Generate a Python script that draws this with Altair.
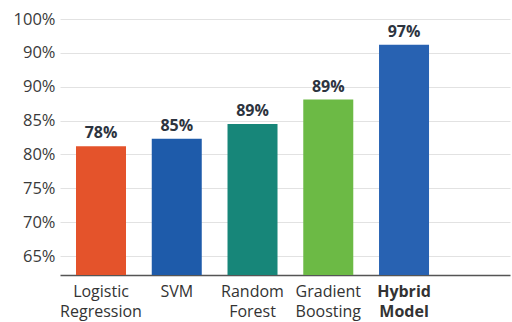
import altair as alt
import pandas as pd

models = ["Logistic Regression", "SVM", "Random Forest", "Gradient Boosting", "Hybrid Model"]
bar_heights = [81.2, 82.3, 84.5, 88.1, 96.2]
value_labels = ["78%", "85%", "89%", "89%", "97%"]
bar_colors = ["#E4532B", "#1E5BAA", "#178679", "#6CBA45", "#2862B2"]
y_ticks = [65, 70, 75, 80, 85, 90, 95, 100]
y_tick_labels = ["65%", "70%", "75%", "80%", "85%", "90%", "90%", "100%"]

df = pd.DataFrame({"model": models, "height": bar_heights, "label": value_labels, "color": bar_colors})

label_expr = " : ".join(
    f"datum.value == {v} ? '{t}'" for v, t in zip(y_ticks, y_tick_labels)
) + " : ''"

FONT = "Open Sans"

x = alt.X(
    "model:N",
    sort=models,
    scale=alt.Scale(paddingInner=0.34, paddingOuter=0.64, align=0.165),
    axis=alt.Axis(
        title=None,
        labelExpr="split(datum.value, ' ')",
        labelAngle=0,
        labelFontSize=16,
        labelLineHeight=20,
        labelPadding=8,
        labelColor="#333333",
        labelFont=FONT,
        labelOverlap=False,
        labelFontWeight=alt.ExprRef(expr="datum.value == 'Hybrid Model' ? 'bold' : 'normal'"),
        ticks=False,
        domainColor="#555555",
        domainWidth=1.5,
        grid=False,
    ),
)

y = alt.Y(
    "height:Q",
    scale=alt.Scale(domain=[62.2, 100], nice=False, zero=False),
    axis=alt.Axis(
        title=None,
        values=y_ticks,
        labelExpr=label_expr,
        labelFontSize=16.5,
        labelColor="#3a3a3a",
        labelFont=FONT,
        labelPadding=5,
        labelOverlap=False,
        labelBound=False,
        labelFlush=False,
        ticks=False,
        domain=False,
        grid=True,
        gridColor="#e2e2e2",
        gridWidth=1,
    ),
)

base = alt.Chart(df).encode(x=x, y=y)

bars = base.mark_bar(clip=True).encode(
    color=alt.Color("color:N", scale=None),
)

texts = base.mark_text(
    baseline="bottom", dy=-5, fontSize=16, fontWeight="bold", color="#2d3440", font=FONT
).encode(
    text="label:N",
)

chart = (
    alt.layer(bars, texts)
    .properties(
        width=450,
        height=256,
        autosize=alt.AutoSizeParams(type="none"),
        padding={"left": 60, "top": 19, "right": 2, "bottom": 47},
    )
    .configure_view(stroke=None)
    .configure_axisY(labelOverlap=False)
)

chart.save("out.html", embed_options={"renderer": "svg", "actions": False})
